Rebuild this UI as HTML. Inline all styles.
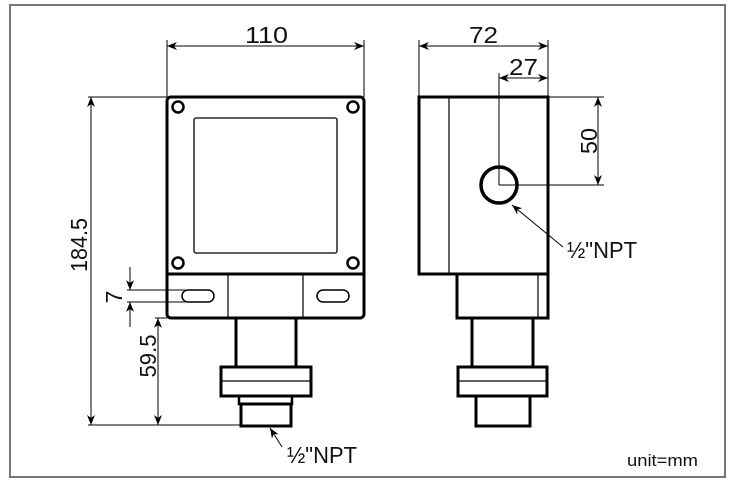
<!DOCTYPE html>
<html><head><meta charset="utf-8"><style>
html,body{margin:0;padding:0;background:#fff;}
svg{display:block;}
text{font-family:"Liberation Sans",sans-serif;font-size:23px;fill:#111;}
</style></head><body>
<svg width="737" height="486" viewBox="0 0 737 486" xmlns="http://www.w3.org/2000/svg">
<defs>
<marker id="a" viewBox="0 0 10 10" refX="10" refY="5" markerWidth="10" markerHeight="10" markerUnits="userSpaceOnUse" orient="auto-start-reverse">
<path d="M0,1 L10,5 L0,9 L3,5 Z" fill="#000"/></marker>
</defs>
<rect x="10" y="5" width="715" height="472" fill="none" stroke="#7a7570" stroke-width="2"/>
<g fill="none" stroke="#000">
<rect x="167" y="97" width="197" height="221" rx="4" stroke-width="3"/>
<line x1="167" y1="274" x2="364" y2="274" stroke-width="3"/>
<rect x="194" y="118" width="143" height="135" rx="2" stroke-width="1.3"/>
<circle cx="178" cy="107" r="5.5" stroke-width="2.5"/>
<circle cx="353" cy="107" r="5.5" stroke-width="2.5"/>
<circle cx="178" cy="263" r="5.5" stroke-width="2.5"/>
<circle cx="353" cy="263" r="5.5" stroke-width="2.5"/>
<line x1="228" y1="274" x2="228" y2="318" stroke-width="1.2"/>
<line x1="303" y1="274" x2="303" y2="318" stroke-width="1.2"/>
<rect x="182" y="290" width="32" height="12" rx="6" stroke-width="1.5"/>
<rect x="317" y="290" width="32" height="12" rx="6" stroke-width="1.5"/>
<rect x="236" y="318" width="60" height="49" stroke-width="3"/>
<rect x="221" y="367" width="90" height="29" stroke-width="3"/>
<line x1="221" y1="381" x2="311" y2="381" stroke-width="1.2"/>
<rect x="239" y="396" width="53" height="8" stroke-width="2.5"/>
<rect x="241" y="404" width="50" height="22" stroke-width="3"/>
<rect x="419" y="97" width="129" height="177" stroke-width="3"/>
<line x1="449" y1="97" x2="449" y2="274" stroke-width="1.2"/>
<rect x="457" y="274" width="91" height="44" stroke-width="3"/>
<line x1="538" y1="274" x2="538" y2="318" stroke-width="1.2"/>
<rect x="472" y="318" width="61" height="49" stroke-width="3"/>
<rect x="458" y="367" width="89" height="29" stroke-width="3"/>
<line x1="458" y1="381" x2="547" y2="381" stroke-width="1.2"/>
<rect x="476" y="396" width="54" height="30" stroke-width="3"/>
<circle cx="499" cy="185" r="18" stroke-width="3.5"/>
<g stroke-width="1">
<line x1="167" y1="40" x2="167" y2="97"/><line x1="364" y1="40" x2="364" y2="97"/>
<line x1="167" y1="46" x2="364" y2="46" marker-start="url(#a)" marker-end="url(#a)"/>
<line x1="88" y1="97" x2="167" y2="97"/>
<line x1="88" y1="425" x2="241" y2="425"/>
<line x1="91" y1="97" x2="91" y2="425" marker-start="url(#a)" marker-end="url(#a)"/>
<line x1="127" y1="290" x2="185" y2="290"/><line x1="127" y1="302" x2="185" y2="302"/>
<line x1="130" y1="267" x2="130" y2="290" marker-end="url(#a)"/>
<line x1="130" y1="327" x2="130" y2="302" marker-end="url(#a)"/>
<line x1="155" y1="318" x2="167" y2="318"/>
<line x1="158" y1="318" x2="158" y2="425" marker-start="url(#a)" marker-end="url(#a)"/>
<line x1="282" y1="447" x2="270" y2="428" marker-end="url(#a)"/>
<line x1="419" y1="40" x2="419" y2="97"/><line x1="548" y1="40" x2="548" y2="97"/>
<line x1="419" y1="46" x2="548" y2="46" marker-start="url(#a)" marker-end="url(#a)"/>
<line x1="499" y1="73" x2="499" y2="185"/>
<line x1="499" y1="78" x2="548" y2="78" marker-start="url(#a)" marker-end="url(#a)"/>
<line x1="548" y1="97" x2="604" y2="97"/><line x1="499" y1="185" x2="604" y2="185"/>
<line x1="598" y1="97" x2="598" y2="185" marker-start="url(#a)" marker-end="url(#a)"/>
<line x1="563" y1="247" x2="512" y2="205" marker-end="url(#a)"/>
</g>
</g>
<text x="245" y="43" textLength="43" lengthAdjust="spacingAndGlyphs">110</text>
<text x="469" y="43" textLength="29" lengthAdjust="spacingAndGlyphs">72</text>
<text x="509" y="75" textLength="29" lengthAdjust="spacingAndGlyphs">27</text>
<text transform="translate(87,245) rotate(-90)" text-anchor="middle" textLength="54" lengthAdjust="spacingAndGlyphs">184.5</text>
<text transform="translate(122,297) rotate(-90)" text-anchor="middle">7</text>
<text transform="translate(156,356) rotate(-90)" text-anchor="middle" textLength="43" lengthAdjust="spacingAndGlyphs">59.5</text>
<text transform="translate(597,141) rotate(-90)" text-anchor="middle" textLength="26" lengthAdjust="spacingAndGlyphs">50</text>
<text x="287" y="463" textLength="70" lengthAdjust="spacingAndGlyphs">½"NPT</text>
<text x="567" y="258" textLength="70" lengthAdjust="spacingAndGlyphs">½"NPT</text>
<text x="627" y="466" style="font-size:17px" textLength="71" lengthAdjust="spacingAndGlyphs">unit=mm</text>
</svg>
</body></html>
